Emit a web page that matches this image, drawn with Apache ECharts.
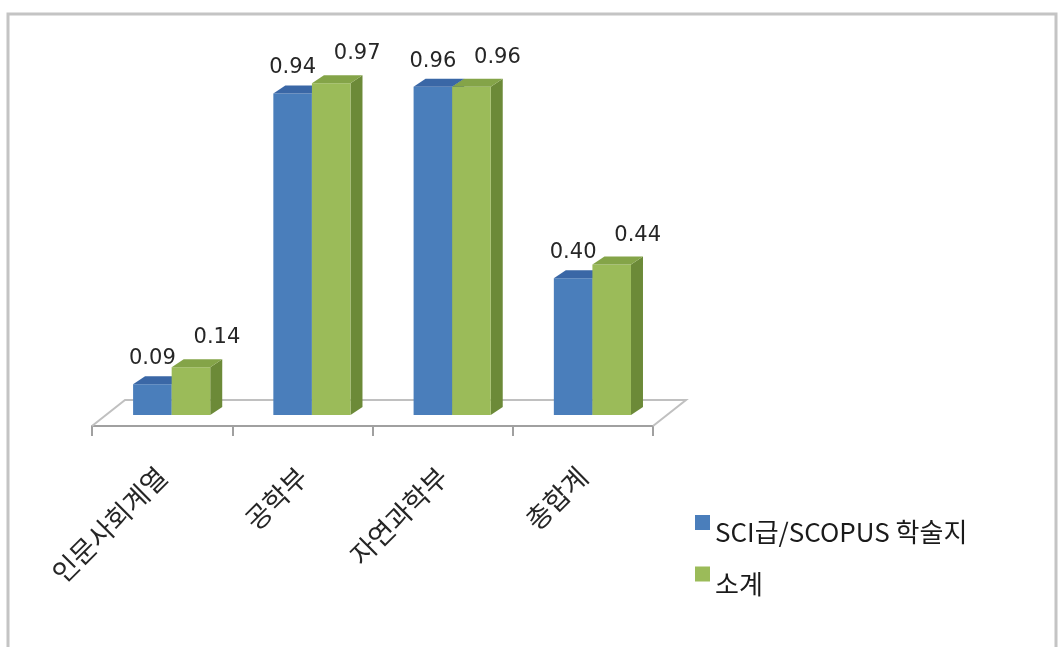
<!DOCTYPE html>
<html>
<head>
<meta charset="utf-8">
<script src="https://cdn.jsdelivr.net/npm/echarts@6/dist/echarts.min.js"></script>
<style>
html,body{margin:0;padding:0;background:#fff;}
#chart{width:1062px;height:647px;}
</style>
</head>
<body>
<div id="chart"></div>
<script>
const categories = ['인문사회계열', '공학부', '자연과학부', '총합계'];
const sciValues = [0.09, 0.94, 0.96, 0.40];
const subtotalValues = [0.14, 0.97, 0.96, 0.44];
const seriesNames = ['SCI급/SCOPUS 학술지', '소계'];

const blueFaces = { front: '#4a7ebb', top: '#3a67a6', side: '#355f99' };
const greenFaces = { front: '#9bbb59', top: '#84a448', side: '#6c8a38' };

function makeBarRender(slot, faces, labelDx, labelGap) {
  return function (params, api) {
    const cat = api.value(0), val = api.value(1);
    const top = api.coord([cat, val]);
    const base = api.coord([cat, 0]);
    const band = api.size([1, 0])[0];
    const w = band * 0.275;
    const shift = band * 0.068;
    const x0 = top[0] + shift + (slot === 0 ? -w : 0);
    const x1 = x0 + w;
    const yT = top[1], yB = base[1];
    const dx = 12, dy = -8;
    return {
      type: 'group',
      children: [
        { type: 'polygon', shape: { points: [[x1, yB], [x1, yT], [x1 + dx, yT + dy], [x1 + dx, yB + dy]] }, style: { fill: faces.side } },
        { type: 'rect', shape: { x: x0, y: yT, width: w, height: yB - yT }, style: { fill: faces.front } },
        { type: 'polygon', shape: { points: [[x0, yT], [x1, yT], [x1 + dx, yT + dy], [x0 + dx, yT + dy]] }, style: { fill: faces.top } },
        { type: 'text', style: { text: val.toFixed(2), x: (x0 + x1) / 2 + labelDx, y: yT - labelGap, align: 'center', verticalAlign: 'bottom', fontSize: 21, fontFamily: 'DejaVu Sans', fill: '#262626' } }
      ]
    };
  };
}

function renderFloor(params, api) {
  const cs = params.coordSys;
  const front = cs.y + cs.height, back = front - 26, depth = 33;
  return {
    type: 'polyline',
    shape: { points: [[cs.x + cs.width, front], [cs.x + cs.width + depth, back], [cs.x + depth, back], [cs.x, front]] },
    style: { fill: 'none', stroke: '#c0c0c0', lineWidth: 2 }
  };
}

const legendIcon = 'path://M0,0H10V10H0Z M0,23H0.01V23.01H0Z';

const chart = echarts.init(document.getElementById('chart'));
chart.setOption({
  animation: false,
  backgroundColor: '#fff',
  graphic: [{ type: 'rect', shape: { x: 8, y: 14, width: 1048, height: 660 }, style: { fill: 'none', stroke: '#c4c4c4', lineWidth: 3 } }],
  grid: { left: 92, right: 409, top: 73, bottom: 221 },
  legend: {
    data: seriesNames.map(n => ({ name: n, icon: legendIcon })),
    orient: 'vertical',
    left: 690,
    top: 510,
    itemWidth: 15,
    itemHeight: 35,
    itemGap: 17,
    textStyle: { fontSize: 26, fontFamily: 'Noto Sans CJK KR', color: '#1a1a1a' }
  },
  xAxis: {
    type: 'category',
    data: categories,
    axisLine: { show: true, onZero: false, lineStyle: { color: '#a0a0a0', width: 2 } },
    axisTick: { show: true, inside: false, length: 10, lineStyle: { color: '#a0a0a0', width: 2 } },
    axisLabel: { rotate: 45, margin: 46, interval: 0, fontSize: 27, fontFamily: 'Noto Sans CJK KR', color: '#262626' },
    splitLine: { show: false }
  },
  yAxis: { type: 'value', min: -0.032, max: 1, show: false },
  series: [
    { type: 'custom', name: 'floor', silent: true, renderItem: renderFloor, data: [[0, 0]], z: 1 },
    { type: 'custom', name: seriesNames[0], itemStyle: { color: blueFaces.front }, renderItem: makeBarRender(0, blueFaces, 0, 15), encode: { x: 0, y: 1 }, data: sciValues.map((v, i) => [i, v]), z: 2 },
    { type: 'custom', name: seriesNames[1], itemStyle: { color: greenFaces.front }, renderItem: makeBarRender(1, greenFaces, 26, 19), encode: { x: 0, y: 1 }, data: subtotalValues.map((v, i) => [i, v]), z: 3 }
  ]
});
</script>
</body>
</html>
